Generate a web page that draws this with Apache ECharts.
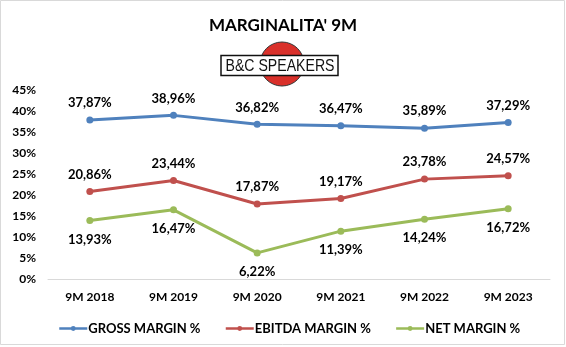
<!DOCTYPE html>
<html>
<head>
<meta charset="utf-8">
<script src="https://cdn.jsdelivr.net/npm/echarts@6/dist/echarts.min.js"></script>
<style>
  html, body { margin: 0; padding: 0; background: #ffffff; }
  #chart { width: 566px; height: 347px; }
</style>
</head>
<body>
<div id="chart"></div>
<script>
// Periods on the category axis
const periods = ['9M 2018', '9M 2019', '9M 2020', '9M 2021', '9M 2022', '9M 2023'];

// Margins in percent
const grossMargin = [37.87, 38.96, 36.82, 36.47, 35.89, 37.29];
const ebitdaMargin = [20.86, 23.44, 17.87, 19.17, 23.78, 24.57];
const netMargin = [13.93, 16.47, 6.22, 11.39, 14.24, 16.72];

// Value axis ticks
const yTicks = [0, 5, 10, 15, 20, 25, 30, 35, 40, 45];

const FONT = 'Lato';
const fmt = v => v.toFixed(2).replace('.', ',') + '%';

function lineSeries(name, data, color, labelPos, labelDist) {
  return {
    name: name,
    type: 'line',
    data: data,
    symbol: 'circle',
    symbolSize: 7,
    lineStyle: { color: color, width: 3 },
    itemStyle: { color: color },
    label: {
      show: true,
      position: labelPos,
      distance: labelDist,
      formatter: p => fmt(p.value),
      fontFamily: FONT,
      fontWeight: 'bold',
      fontSize: 13,
      color: '#000000'
    },
    animation: false
  };
}

const chart = echarts.init(document.getElementById('chart'), null, { renderer: 'canvas' });

chart.setOption({
  backgroundColor: '#ffffff',
  animation: false,
  title: {
    text: "MARGINALITA' 9M",
    left: 'center',
    top: 12,
    textStyle: { fontFamily: FONT, fontWeight: 'bold', fontSize: 17, color: '#000000' }
  },
  grid: { left: 48, right: 16, top: 90, bottom: 68 },
  xAxis: {
    type: 'category',
    data: periods,
    boundaryGap: true,
    axisLine: { lineStyle: { color: '#d9d9d9', width: 1 } },
    axisTick: { show: false },
    axisLabel: { fontFamily: FONT, fontWeight: 'bold', fontSize: 12, color: '#000000', margin: 12 }
  },
  yAxis: {
    type: 'value',
    min: yTicks[0],
    max: yTicks[yTicks.length - 1],
    interval: yTicks[1] - yTicks[0],
    splitLine: { show: false },
    axisLine: { show: false },
    axisTick: { show: false },
    axisLabel: { formatter: '{value}%', fontFamily: FONT, fontWeight: 'bold', fontSize: 12, color: '#000000', margin: 12 }
  },
  legend: {
    left: 53,
    top: 317,
    itemWidth: 28,
    itemHeight: 6,
    itemGap: 24,
    itemStyle: { borderWidth: 0 },
    lineStyle: { width: 2.5 },
    textStyle: { fontFamily: FONT, fontWeight: 'bold', fontSize: 13, color: '#000000', padding: [0, 0, 0, -4] },
    data: ['GROSS MARGIN %', 'EBITDA MARGIN %', 'NET MARGIN %']
  },
  series: [
    lineSeries('GROSS MARGIN %', grossMargin, '#4f81bd', 'top', 7),
    lineSeries('EBITDA MARGIN %', ebitdaMargin, '#c0504d', 'top', 7),
    lineSeries('NET MARGIN %', netMargin, '#9bbb59', 'bottom', 9)
  ],
  graphic: [
    // outer chart frame
    { type: 'rect', shape: { x: 0.5, y: 0.5, width: 564, height: 344 }, style: { fill: null, stroke: '#d9d9d9', lineWidth: 1 }, silent: true },
    // company logo: red disc behind a boxed wordmark
    { type: 'circle', shape: { cx: 282, cy: 64, r: 22 }, style: { fill: '#d9302a', stroke: '#333333', lineWidth: 1 }, silent: true },
    { type: 'rect', shape: { x: 221, y: 55.5, width: 117, height: 20 }, style: { fill: '#ffffff', stroke: '#111111', lineWidth: 1.5 }, silent: true },
    { type: 'text', x: 280, y: 66.5, scaleX: 0.83, style: { text: 'B&C SPEAKERS', fontFamily: 'Liberation Sans', fontSize: 17, fill: '#111111', align: 'center', verticalAlign: 'middle' }, silent: true }
  ]
});
</script>
</body>
</html>
